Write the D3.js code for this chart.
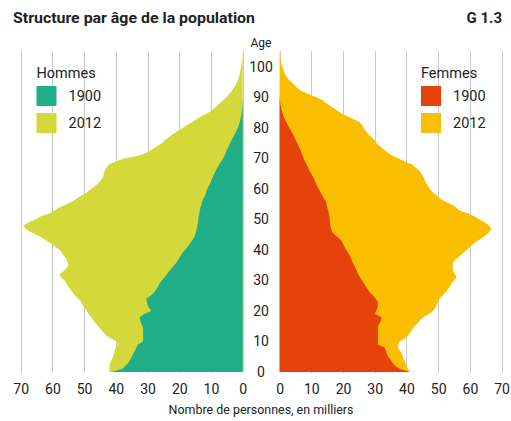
<!DOCTYPE html>
<html>
<head>
<meta charset="utf-8">
<script src="https://cdn.jsdelivr.net/npm/d3@7"></script>
<style>
  body { margin:0; background:#fff; }
  text { font-family:Roboto,"Liberation Sans",sans-serif; fill:#222; }
</style>
</head>
<body>
<script>
var width = 511;
var height = 421;

// ages 0..105, values in thousands
var ages = d3.range(0, 106);
var men2012 = [42,42,42,41.8,41.3,40.9,40.6,40.4,40,39.4,
  39.8,41.5,43,44,44.8,45.6,46.4,47.2,47.8,48.6,
  49.2,49.8,50.5,51,51.8,52.8,53.6,54.3,55,55.6,
  56.2,57.2,57.8,56.5,55.6,55,55.2,55.6,56.3,57,
  57.7,59,60.3,61.8,63.2,65,67,68.5,69.3,67.5,
  65.5,63.8,61,59.3,57.7,55.5,53.5,52.3,50.5,49,
  47.8,46.5,45.6,44.6,44,43.8,43.5,43,42.2,40,
  37.5,32.5,30.2,28.5,27,25.5,24.6,23.2,22,20.5,
  19,17.5,15.8,14.3,12.8,10.9,9.6,8.4,7.3,6.2,
  5.2,4.4,3.6,2.9,2.3,1.8,1.4,1.1,0.9,0.7,
  0.5,0.35,0.25,0.15,0.1,0.05];
var men1900 = [41.4,38,37,36,35.5,35,34.5,34,33.5,33,
  31.5,31.4,31.4,31.4,31.4,31.6,32,32.3,32.5,31,
  28.8,29.5,30,30.2,30.4,29,28,27.3,26.7,26.2,
  25.5,24.7,24,23.2,22.4,21.6,20.8,20.2,19.7,19,
  18.2,17.4,16.7,16,15.4,15,14.7,14.5,14.3,14.1,
  14,13.9,13.7,13.5,13.3,13,12.8,12.3,11.8,11.5,
  11.2,10.7,10.2,9.8,9.4,9,8.5,8,7.4,6.8,
  6.2,5.7,5.3,4.9,4.4,4,3.5,3,2.5,2,
  1.5,1.2,0.9,0.7,0.5,0.35,0.25,0.15,0.1,0.05,
  0,0,0,0,0,0,0,0,0,0,
  0,0,0,0,0,0];
var women2012 = [41,40.5,40,39.6,39.2,38.9,38.5,38,37.3,37.4,
  37.9,39.5,40.5,41.2,41.8,42.6,43.5,44.2,45.5,47,
  48.4,49,49.5,50,50.4,51.3,52.2,53,53.7,54.2,
  55,55.7,55.4,54.7,54.6,54.6,54.7,55.5,56.8,58,
  58.9,60,61,62.5,64,65.2,66.2,66.8,66,64.8,
  63,61.5,59.5,56.5,55.7,54,52,50.5,49.3,48.2,
  47.3,46.8,46.2,45.7,45.3,44.8,44,43,41.8,39.5,
  37.5,35.5,34,32.8,31.6,30.6,30,29,27.9,27.2,
  26.5,26,25.2,23,21,19.2,17.8,16.3,14.8,13.7,
  11.8,9.5,7.2,5.7,4.7,3.8,2.8,2.1,1.6,1.2,
  0.9,0.6,0.4,0.25,0.12,0.05];
var women1900 = [41,38,36.5,35.5,35,34.2,33.8,33.5,33.1,31,
  31,31,31,31,31,31,31.5,32,32.1,30,
  30.5,30.8,31,31,30.3,29.5,28.5,27.9,27.2,26.6,
  26,25.4,24.8,24.4,24,23.5,23,22.6,22.2,21.6,
  21,20.5,20,19.5,18.5,17.4,16.5,16.2,16,15.9,
  15.8,15.7,15.6,15.3,15,14.8,14.6,13.9,13.4,12.9,
  12.3,11.8,11.4,11,10.5,10,9.4,9,8.5,8,
  7.6,7.2,6.9,6.5,6,5.6,5.1,4.6,4.2,3.6,
  3.1,2.6,2.1,1.6,1.2,0.9,0.6,0.4,0.2,0.1,
  0.05,0,0,0,0,0,0,0,0,0,
  0,0,0,0,0,0];

var valueTicks = [0,10,20,30,40,50,60,70];
var ageTicks = [0,10,20,30,40,50,60,70,80,90,100];
var years = ["1900","2012"];

var colors = {men1900:"#1fae87", men2012:"#d3d83b", women1900:"#e6420b", women2012:"#fabe00"};

var svg = d3.select("body").append("svg")
            .attr("width", width)
            .attr("height", height);

var xLeft = d3.scaleLinear().domain([0,70]).range([242.7,20.7]);
var xRight = d3.scaleLinear().domain([0,70]).range([279.6,501.6]);
var y = d3.scaleLinear().domain([0,100]).range([372,67]);

// grid lines
var grid = svg.append("g");
[xLeft, xRight].forEach(function(sc){
  grid.selectAll(null)
      .data(valueTicks)
      .enter().append("line")
      .attr("x1", function(d){ return Math.round(sc(d))+0.5; })
      .attr("x2", function(d){ return Math.round(sc(d))+0.5; })
      .attr("y1", 51)
      .attr("y2", 373)
      .attr("stroke", "#cacaca")
      .attr("stroke-width", 1);
});

function drawArea(sc, values, color){
  var area = d3.area()
               .y(function(d,i){ return y(ages[i]); })
               .x0(sc(0))
               .x1(function(d){ return sc(d); })
               .curve(d3.curveLinear);
  svg.append("path")
     .attr("d", area(values))
     .attr("fill", color);
}

drawArea(xLeft, men2012, colors.men2012);
drawArea(xLeft, men1900, colors.men1900);
drawArea(xRight, women2012, colors.women2012);
drawArea(xRight, women1900, colors.women1900);

// value axes
var axisLeft = d3.axisBottom(xLeft).tickValues(valueTicks).tickSize(0);
var axisRight = d3.axisBottom(xRight).tickValues(valueTicks).tickSize(0);
[axisLeft, axisRight].forEach(function(ax){
  var g = svg.append("g").attr("transform","translate(0,381)").call(ax);
  g.select(".domain").remove();
  g.selectAll("text")
   .attr("dy", "0.71em")
   .style("font-family", "Roboto,sans-serif")
   .style("font-size", "14px")
   .attr("fill", "#222");
});

// age axis in the middle
var ageAxis = d3.axisRight(y).tickValues(ageTicks).tickSize(0).tickPadding(0);
var ga = svg.append("g").attr("transform","translate(261,0)").call(ageAxis);
ga.select(".domain").remove();
ga.selectAll("text")
  .attr("text-anchor","middle")
  .attr("x", 0)
  .style("font-family", "Roboto,sans-serif")
  .style("font-size", "14px")
  .attr("fill", "#222");

svg.append("text")
   .attr("x", 261).attr("y", 47)
   .attr("text-anchor","middle")
   .style("font-size","12px")
   .text("Age");

svg.append("text")
   .attr("x", 261).attr("y", 414)
   .attr("text-anchor","middle")
   .style("font-size","12.5px")
   .attr("textLength", 185)
   .attr("lengthAdjust", "spacingAndGlyphs")
   .text("Nombre de personnes, en milliers");

// title
svg.append("text")
   .attr("x", 13).attr("y", 23)
   .style("font-size","15px")
   .style("font-weight","bold")
   .attr("textLength", 242)
   .attr("lengthAdjust", "spacingAndGlyphs")
   .text("Structure par âge de la population");
svg.append("text")
   .attr("x", 502).attr("y", 23)
   .attr("text-anchor","end")
   .style("font-size","15px")
   .style("font-weight","bold")
   .text("G 1.3");

// legends
function legend(x, title, cols){
  var g = svg.append("g");
  g.append("text").attr("x", x).attr("y", 78).style("font-size","14.5px").text(title);
  years.forEach(function(yr, i){
    g.append("rect")
     .attr("x", x).attr("y", 86 + i*27)
     .attr("width", 20).attr("height", 20)
     .attr("fill", cols[i]);
    g.append("text")
     .attr("x", x + 32).attr("y", 101 + i*27)
     .style("font-size","14.5px")
     .text(yr);
  });
}
legend(36.5, "Hommes", [colors.men1900, colors.men2012]);
legend(421, "Femmes", [colors.women1900, colors.women2012]);
</script>
</body>
</html>
